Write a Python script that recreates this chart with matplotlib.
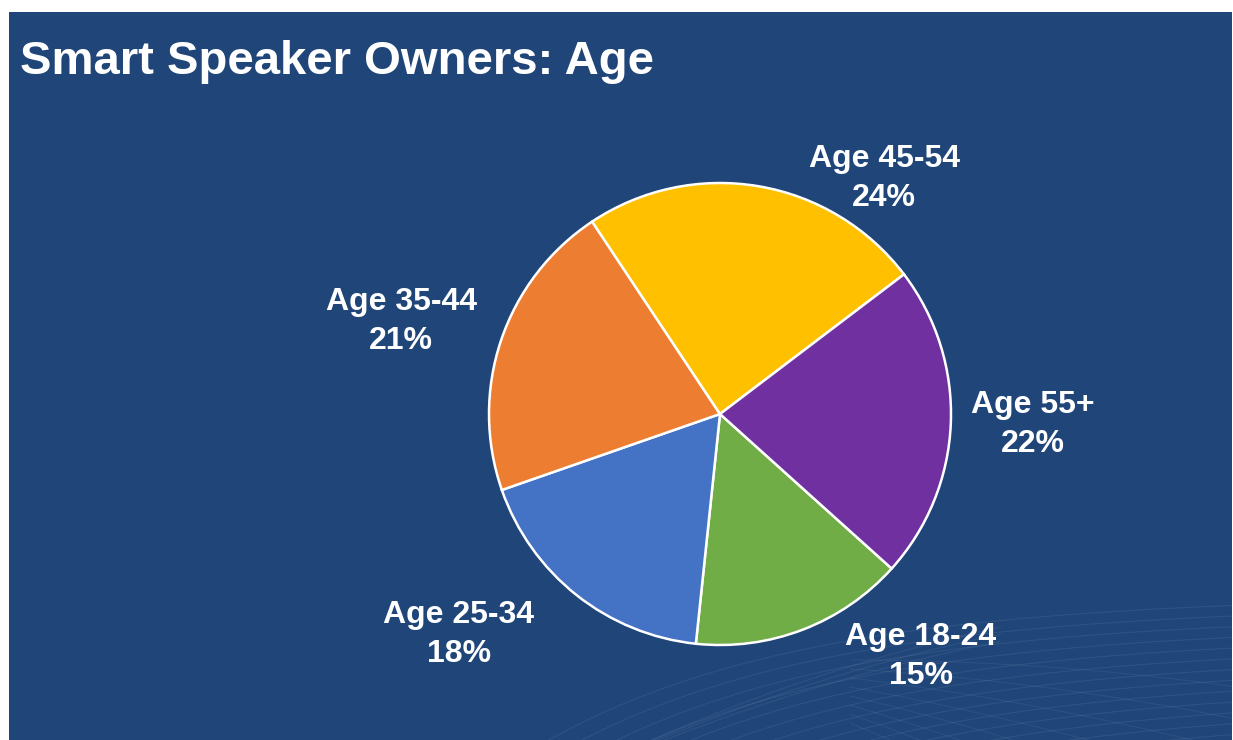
import numpy as np
import matplotlib
matplotlib.use("Agg")
import matplotlib.pyplot as plt
from matplotlib.patches import Rectangle

# Share of smart speaker owners by age group (percent)
age_groups = ["Age 18-24", "Age 25-34", "Age 35-44", "Age 45-54", "Age 55+"]
shares = [15, 18, 21, 24, 22]
colors = ["#70AD47", "#4472C4", "#ED7D31", "#FFC000", "#7030A0"]
title = "Smart Speaker Owners: Age"

W, H = 1233, 740
BG = "#1F4579"

fig = plt.figure(figsize=(W / 100, H / 100), dpi=100, facecolor="white")
ax = fig.add_axes([0, 0, 1, 1])
ax.set_xlim(0, W)
ax.set_ylim(0, H)
ax.axis("off")

# slide background panel
panel = Rectangle((9, 0), W - 10, H - 12, facecolor=BG, edgecolor="none", zorder=0)
ax.add_patch(panel)


def swoosh(x, y_top, alpha=0.07, lw=0.8):
    """Faint decorative line; y_top is measured downward from the top edge."""
    ln, = ax.plot(x, H - y_top, color="white", lw=lw, alpha=alpha, zorder=1,
                  solid_capstyle="round")
    ln.set_clip_path(panel)


# bundle of rising curves along the lower right
for k in range(14):
    x0 = 540 + k * 22
    xs = np.linspace(x0, W, 200)
    ys = 745 - (150 - k * 4) * (1 - np.exp(-(xs - x0) / 260.0)) + k * 6
    swoosh(xs, ys)
# gently falling strands near the bottom corner
for k in range(8):
    xs = np.linspace(850, W, 120)
    ys = 660 + k * 9 + 0.00018 * (xs - 850) ** 2 + k * 0.06 * (xs - 850)
    swoosh(xs, ys, alpha=0.06)
# soft diagonal streak
for k in range(3):
    xs = np.linspace(640 + k * 6, 1000, 60)
    swoosh(xs, 745 - (xs - 640 - k * 6) * (0.44 - k * 0.02) * (1 - (xs - 640) / 1400),
           alpha=0.06, lw=1.0)

# pie
cx, cy, R = 720, H - 414, 231
wedges, _ = ax.pie(shares, colors=colors, startangle=-42, counterclock=False,
                   center=(cx, cy), radius=R,
                   wedgeprops=dict(edgecolor="white", linewidth=1.8))
for w in wedges:
    w.set_zorder(2)
ax.set_xlim(0, W)
ax.set_ylim(0, H)
ax.set_aspect("auto")

# label placement relative to the pie centre, in units of the radius
label_offsets = [(0.87, -1.05), (-1.13, -0.955), (-1.38, 0.40), (0.71, 1.02), (1.355, -0.045)]
for name, val, (ox, oy) in zip(age_groups, shares, label_offsets):
    ax.text(cx + ox * R, cy + oy * R, f"{name}\n{val}%", ha="center", va="center",
            color="white", fontsize=23, fontweight="bold", family="Liberation Sans",
            linespacing=1.36, zorder=3)

fig.text(20 / W, 1 - 62 / H, title, ha="left", va="center", color="white",
         fontsize=34, fontweight="bold", family="Liberation Sans")

fig.savefig("out.png", dpi=100, facecolor="white")
